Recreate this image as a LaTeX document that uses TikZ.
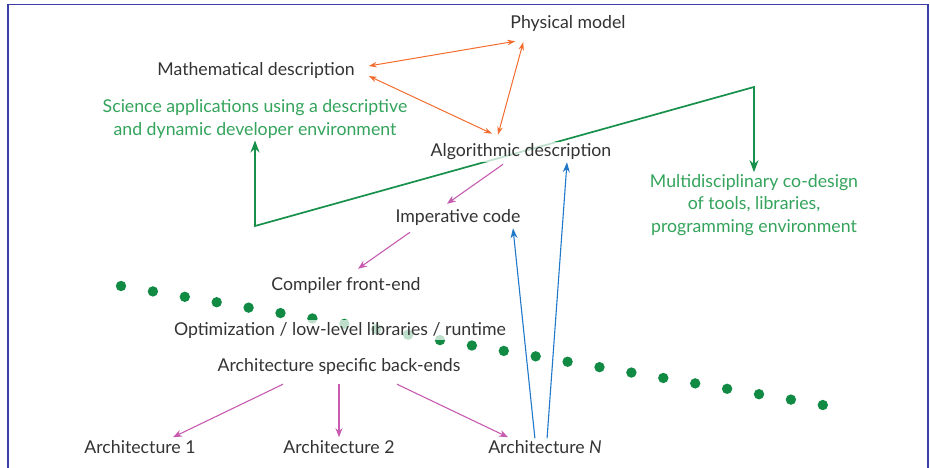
\documentclass[tikz,border=0pt]{standalone}
\usepackage{fontspec}
\setmainfont{Lato}
\usetikzlibrary{arrows.meta,backgrounds}
\definecolor{txtgrey}{HTML}{333333}
\definecolor{sgreen}{HTML}{34A45C}
\definecolor{lgreen}{HTML}{16904A}
\definecolor{dgreen}{HTML}{118A44}
\definecolor{orng}{HTML}{F26C2E}
\definecolor{pnk}{HTML}{C65BB0}
\definecolor{blu}{HTML}{1F78C8}
\definecolor{frm}{HTML}{3C3FA8}
\begin{document}
\begin{tikzpicture}[x=1pt,y=-1pt,
  lbl/.style={text=txtgrey, font=\fontsize{17.7}{22.5}\selectfont, fill=white,
    fill opacity=.72, text opacity=1, inner sep=2pt},
  glbl/.style={lbl, text=sgreen, align=center},
  oarr/.style={orng, line width=1pt, {Stealth[length=8pt,width=5.5pt]}-{Stealth[length=8pt,width=5.5pt]}},
  parr/.style={pnk, line width=1.1pt, -{Stealth[length=9pt,width=7pt]}},
  barr/.style={blu, line width=1.1pt, -{Stealth[length=10pt,width=7pt]}},
  garr/.style={lgreen, line width=1.7pt, {Stealth[length=12pt,width=9pt]}-{Stealth[length=12pt,width=9pt]}}]
\useasboundingbox (0,0) rectangle (930,468);
\draw[frm, line width=1.4pt] (8,468) -- (8,4.5) -- (928,4.5) -- (928,468);

\node[lbl] (phys) at (568,24) {Physical model};
\node[lbl] (math) at (256,71) {Mathematical description};
\node[glbl] (sci) at (255,119) {Science applications using a descriptive\\and dynamic developer environment};
\node[lbl] (alg) at (521,152) {Algorithmic description};
\node[glbl] (multi) at (754,205) {Multidisciplinary co-design\\of tools, libraries,\\programming environment};
\node[lbl] (imp) at (458,217) {Imperative code};
\node[lbl] (comp) at (346,285) {Compiler front-end};
\node[lbl] (opt) at (340,330) {Optimization / low-level libraries / runtime};
\node[lbl] (back) at (339,366) {Architecture specific back-ends};
\node[lbl] (arch1) at (140,447) {Architecture 1};
\node[lbl] (arch2) at (339,447) {Architecture 2};
\node[lbl] (archn) at (545,447) {Architecture \textit{N}};

\coordinate (gl) at (255,226);
\coordinate (gr) at (754,87);

\begin{pgfonlayer}{background}
\foreach \i in {0,...,22}
  \fill[dgreen] ({121+31.9*\i},{286+5.41*\i}) circle (5.2pt);
\draw[garr] (sci.south) -- (gl) -- (gr) -- (multi.north);
\draw[oarr] ([xshift=12pt,yshift=5pt]math.east) -- ([xshift=7pt,yshift=-7pt]phys.south west);
\draw[oarr] ([xshift=12pt,yshift=-5pt]math.east) -- ([xshift=-29pt,yshift=8pt]alg.north);
\draw[oarr] ([xshift=15pt,yshift=-8pt]phys.south west) -- ([xshift=-23pt,yshift=7pt]alg.north);
\draw[parr] ([xshift=-18pt,yshift=-2pt]alg.south) -- ([xshift=-11pt,yshift=3pt]imp.north);
\draw[parr] ([xshift=-48pt,yshift=-5pt]imp.south) -- ([xshift=12pt,yshift=6pt]comp.north);
\draw[parr] ([xshift=-56pt,yshift=-8pt]back.south) -- ([xshift=33pt,yshift=1pt]arch1.north);
\draw[parr] ([yshift=-8pt]back.south) -- ([yshift=1pt]arch2.north);
\draw[parr] ([xshift=58pt,yshift=-8pt]back.south) -- ([xshift=-37pt,yshift=1pt]archn.north);
\draw[barr] ([xshift=-10pt,yshift=-1pt]archn.north) -- ([xshift=55pt,yshift=-1pt]imp.south);
\draw[barr] ([xshift=2pt,yshift=-1pt]archn.north) -- ([xshift=46pt]alg.south);
\end{pgfonlayer}
\end{tikzpicture}
\end{document}
